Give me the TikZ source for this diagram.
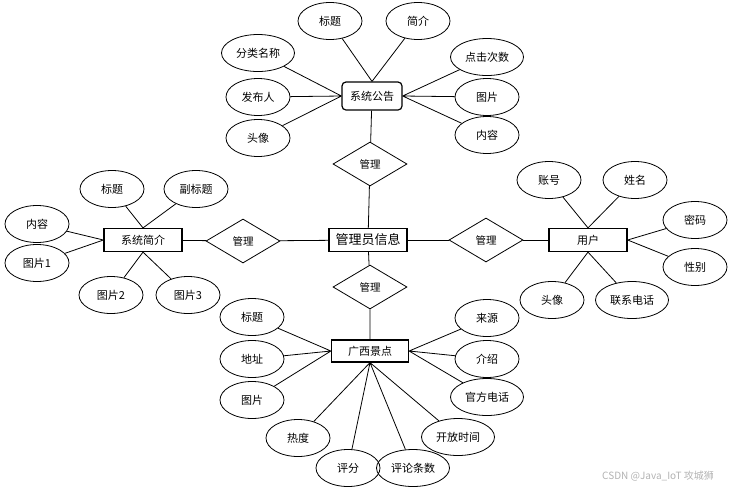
\documentclass[tikz,border=0pt]{standalone}
\usepackage{fontspec}
\setmainfont{Noto Sans CJK SC}
\usetikzlibrary{shapes.geometric}
\begin{document}
\begin{tikzpicture}[
        x=1pt,y=-1pt,
        every node/.style={font=\fontsize{11}{12}\selectfont},
        attr/.style={draw, ellipse, line width=0.8pt, inner sep=0pt,
            minimum width=64pt, minimum height=37pt},
        wideattr/.style={attr, minimum width=73pt},
        entity/.style={draw, rectangle, line width=1.2pt, inner sep=0pt,
            minimum width=78pt, minimum height=23pt},
        relation/.style={draw, diamond, line width=0.8pt, inner sep=0pt, aspect=1.7,
            minimum width=74pt, minimum height=44pt,
            font=\fontsize{10.5}{12}\selectfont},
        link/.style={line width=0.8pt},
    ]
    \useasboundingbox (0,0) rectangle (733,491);

    % central entity and its relations
    \node[entity, font=\fontsize{13}{14}\selectfont] (admin) at (368,240) {管理员信息};
    \node[relation] (mgTop) at (370,164) {管理};
    \node[relation] (mgLeft) at (243,241) {管理};
    \node[relation] (mgRight) at (486,240) {管理};
    \node[relation] (mgBottom) at (370,287) {管理};

    % 系统公告
    \node[entity, rounded corners=4pt, minimum width=60pt, minimum height=28pt] (notice) at (372,96) {系统公告};
    \node[attr] (ntTitle) at (330,21) {标题};
    \node[attr] (ntBrief) at (418,21) {简介};
    \node[wideattr] (ntCat) at (258,53) {分类名称};
    \node[attr] (ntAuthor) at (258,97) {发布人};
    \node[attr] (ntAvatar) at (258,138) {头像};
    \node[wideattr] (ntClicks) at (487,57) {点击次数};
    \node[attr] (ntPic) at (487,97) {图片};
    \node[attr] (ntText) at (487,135) {内容};

    % 系统简介
    \node[entity] (intro) at (143,240) {系统简介};
    \node[attr] (inTitle) at (112,189) {标题};
    \node[attr] (inSub) at (196,189) {副标题};
    \node[attr] (inText) at (37,224) {内容};
    \node[attr] (inPicA) at (37,263) {图片1};
    \node[attr] (inPicB) at (111,295) {图片2};
    \node[attr] (inPicC) at (188,295) {图片3};

    % 用户
    \node[entity] (user) at (588,240) {用户};
    \node[attr] (usAcct) at (549,180) {账号};
    \node[attr] (usName) at (635,180) {姓名};
    \node[attr] (usPwd) at (695,220) {密码};
    \node[attr] (usSex) at (695,267) {性别};
    \node[attr] (usAvatar) at (552,300) {头像};
    \node[wideattr] (usPhone) at (632,300) {联系电话};

    % 广西景点
    \node[entity, minimum width=77pt, minimum height=22pt] (spot) at (370,351) {广西景点};
    \node[attr] (spTitle) at (252,317) {标题};
    \node[attr] (spAddr) at (252,359) {地址};
    \node[attr] (spPic) at (252,400) {图片};
    \node[attr] (spHeat) at (298,438) {热度};
    \node[attr] (spScore) at (348,468) {评分};
    \node[wideattr] (spComments) at (413,468) {评论条数};
    \node[wideattr] (spOpen) at (458,437) {开放时间};
    \node[wideattr] (spPhone) at (487,397) {官方电话};
    \node[attr] (spDesc) at (487,359) {介绍};
    \node[attr] (spSource) at (487,318) {来源};

    % relation links
    \draw[link] (notice) -- (mgTop) -- (admin);
    \draw[link] (intro) -- (mgLeft) -- (admin);
    \draw[link] (admin) -- (mgRight) -- (user);
    \draw[link] (admin) -- (mgBottom) -- (spot);

    % attribute links
    \draw[link] (ntTitle) -- (notice.north) (ntBrief) -- (notice.north)
        (ntCat) -- (notice.west) (ntAuthor) -- (notice.west) (ntAvatar) -- (notice.west)
        (ntClicks) -- (notice.east) (ntPic) -- (notice.east) (ntText) -- (notice.east);
    \draw[link] (inTitle) -- (intro.north) (inSub) -- (intro.north)
        (inText) -- (intro.west) (inPicA) -- (intro.west)
        (inPicB) -- (intro.south) (inPicC) -- (intro.south);
    \draw[link] (usAcct) -- (user.north) (usName) -- (user.north)
        (usPwd) -- (user.east) (usSex) -- (user.east)
        (usAvatar) -- (user.south) (usPhone) -- (user.south);
    \draw[link] (spTitle) -- (spot.west) (spAddr) -- (spot.west) (spPic) -- (spot.west)
        (spHeat) -- (spot.south) (spScore) -- (spot.south)
        (spComments) -- (spot.south) (spOpen) -- (spot.south)
        (spSource) -- (spot.east) (spDesc) -- (spot.east) (spPhone) -- (spot.east);

    \node[text=gray!60, font=\fontsize{10}{11}\selectfont] (mark) at (658,476) {CSDN @Java\_IoT 攻城狮};
\end{tikzpicture}
\end{document}
